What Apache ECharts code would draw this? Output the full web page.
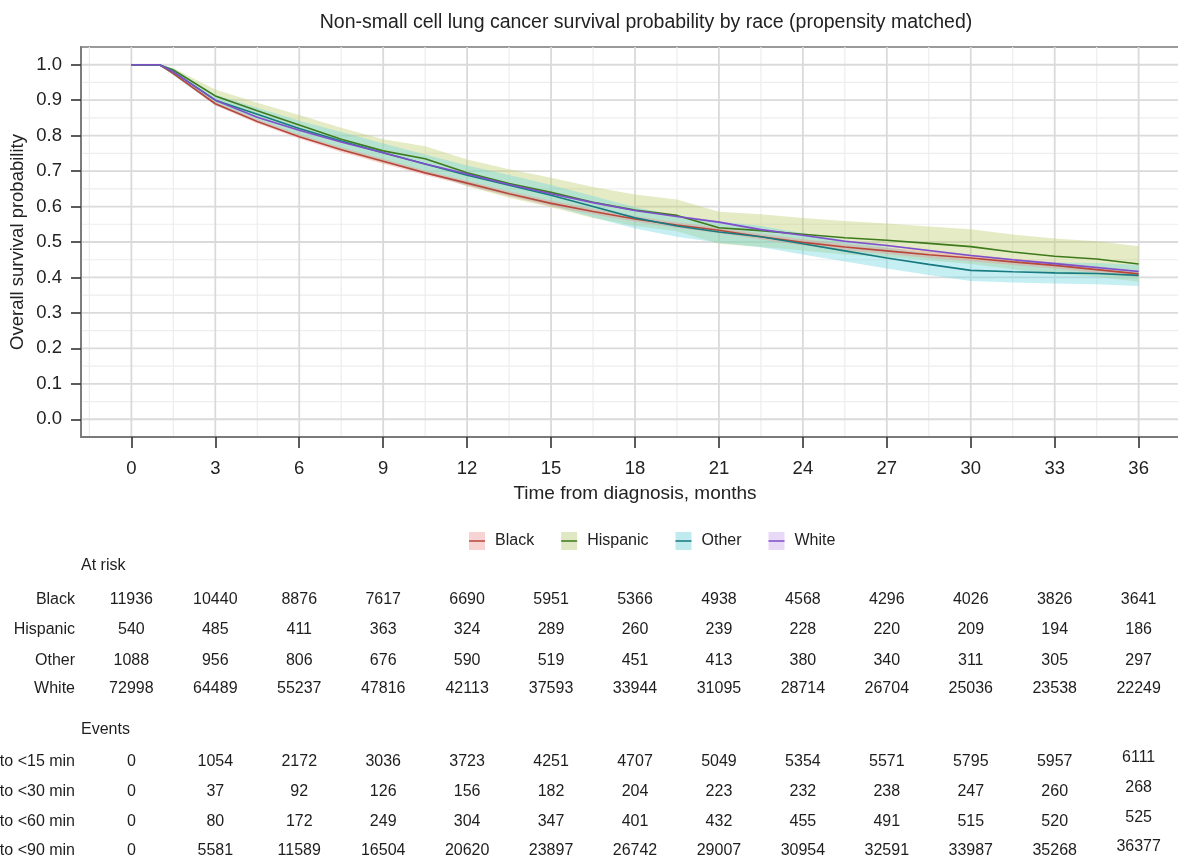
<!DOCTYPE html>
<html><head><meta charset="utf-8">
<script src="https://cdn.jsdelivr.net/npm/echarts@6/dist/echarts.min.js"></script>
<style>html,body{margin:0;padding:0;background:#fff}#c{width:1178px;height:858px}</style>
</head><body><div id="c"></div>
<script>
// ---------- data ----------
const months = [0,1,1.5,3,4.5,6,7.5,9,10.5,12,13.5,15,16.5,18,19.5,21,22.5,24,25.5,27,28.5,30,31.5,33,34.5,36];
const blackSurv = [1,1,0.975,0.89,0.84,0.797,0.76,0.728,0.695,0.666,0.636,0.609,0.586,0.565,0.548,0.533,0.515,0.499,0.486,0.475,0.464,0.455,0.444,0.434,0.422,0.41];
const blackHi   = [1,1,0.978,0.895,0.846,0.803,0.767,0.735,0.702,0.673,0.643,0.617,0.594,0.573,0.556,0.541,0.523,0.508,0.495,0.484,0.473,0.464,0.453,0.443,0.431,0.419];
const blackLo   = [1,1,0.972,0.885,0.834,0.791,0.753,0.721,0.688,0.659,0.629,0.601,0.578,0.557,0.54,0.525,0.507,0.49,0.477,0.466,0.455,0.446,0.435,0.425,0.413,0.401];
const hispSurv  = [1,1,0.985,0.912,0.87,0.83,0.79,0.757,0.735,0.695,0.665,0.64,0.612,0.59,0.575,0.54,0.532,0.522,0.512,0.505,0.496,0.487,0.472,0.46,0.452,0.438];
const hispHi    = [1,1,0.99,0.93,0.893,0.858,0.822,0.79,0.77,0.733,0.705,0.681,0.655,0.634,0.62,0.585,0.578,0.568,0.559,0.552,0.544,0.536,0.521,0.51,0.502,0.488];
const hispLo    = [1,1,0.98,0.89,0.845,0.8,0.758,0.722,0.698,0.657,0.625,0.598,0.568,0.545,0.53,0.495,0.486,0.476,0.465,0.458,0.448,0.438,0.423,0.41,0.402,0.388];
const otherSurv = [1,1,0.98,0.9,0.86,0.82,0.785,0.752,0.72,0.688,0.66,0.632,0.6,0.568,0.545,0.528,0.515,0.495,0.475,0.455,0.437,0.42,0.416,0.413,0.411,0.406];
const otherHi   = [1,1,0.99,0.915,0.879,0.842,0.81,0.778,0.747,0.716,0.689,0.661,0.63,0.598,0.575,0.558,0.545,0.525,0.505,0.485,0.467,0.45,0.446,0.443,0.441,0.436];
const otherLo   = [1,1,0.97,0.885,0.841,0.798,0.76,0.726,0.693,0.66,0.631,0.603,0.57,0.538,0.515,0.498,0.485,0.465,0.445,0.425,0.407,0.39,0.386,0.383,0.381,0.376];
const whiteSurv = [1,1,0.98,0.9,0.852,0.815,0.782,0.752,0.72,0.692,0.662,0.636,0.611,0.589,0.572,0.556,0.535,0.519,0.502,0.49,0.476,0.462,0.45,0.439,0.428,0.417];
const whiteHi   = [1,1,0.981,0.902,0.854,0.818,0.785,0.755,0.723,0.695,0.665,0.639,0.614,0.592,0.575,0.559,0.538,0.522,0.505,0.493,0.479,0.465,0.453,0.442,0.431,0.42];
const whiteLo   = [1,1,0.979,0.898,0.85,0.812,0.779,0.749,0.717,0.689,0.659,0.633,0.608,0.586,0.569,0.553,0.532,0.516,0.499,0.487,0.473,0.459,0.447,0.436,0.425,0.414];

const xTicks = [0,3,6,9,12,15,18,21,24,27,30,33,36];
const xMinor = [-1.5,1.5,4.5,7.5,10.5,13.5,16.5,19.5,22.5,25.5,28.5,31.5,34.5,37.5];
const yTicks = [0,0.1,0.2,0.3,0.4,0.5,0.6,0.7,0.8,0.9,1.0];
const yMinor = [0.05,0.15,0.25,0.35,0.45,0.55,0.65,0.75,0.85,0.95];

const groups = ['Black','Hispanic','Other','White'];
const riskBlack    = [11936,10440,8876,7617,6690,5951,5366,4938,4568,4296,4026,3826,3641];
const riskHispanic = [540,485,411,363,324,289,260,239,228,220,209,194,186];
const riskOther    = [1088,956,806,676,590,519,451,413,380,340,311,305,297];
const riskWhite    = [72998,64489,55237,47816,42113,37593,33944,31095,28714,26704,25036,23538,22249];

const eventLabels = ['to <15 min','to <30 min','to <60 min','to <90 min'];
const events15 = [0,1054,2172,3036,3723,4251,4707,5049,5354,5571,5795,5957,6111];
const events30 = [0,37,92,126,156,182,204,223,232,238,247,260,268];
const events60 = [0,80,172,249,304,347,401,432,455,491,515,520,525];
const events90 = [0,5581,11589,16504,20620,23897,26742,29007,30954,32591,33987,35268,36377];

// ---------- styles ----------
const FONT = '"Liberation Sans", Arial, Helvetica, sans-serif';
const lineColors = {Black:'#b8473a', Hispanic:'#3d7a1c', Other:'#177a80', White:'#7d4fc8'};
const bandColors = {Black:'rgba(240,140,140,0.35)', Hispanic:'rgba(190,205,110,0.40)', Other:'rgba(110,215,225,0.40)', White:'rgba(190,150,240,0.35)'};
const legendFill = {Black:'#f8d3d3', Hispanic:'#dfe8c2', Other:'#bfebee', White:'#e8d9f7'};

const chart = echarts.init(document.getElementById('c'), null, {renderer:'canvas'});

function lineSeries(name, arr){
  return {type:'line', name, data: months.map((t,i)=>[t, arr[i]]), showSymbol:false, symbol:'none',
    lineStyle:{color:lineColors[name], width:1.6}, itemStyle:{color:lineColors[name]}, z:4, silent:true, animation:false};
}
function bandSeries(name, lo, hi){
  return {type:'custom', name, data: months.map((t,i)=>[t, lo[i], hi[i]]), encode:{x:0, y:[1,2]}, z:2, silent:true, animation:false,
    itemStyle:{color:lineColors[name]},
    renderItem(params, api){
      if (params.dataIndex !== 0) return null;
      const pts = [];
      for (let i=0;i<months.length;i++) pts.push(api.coord([months[i], hi[i]]));
      for (let i=months.length-1;i>=0;i--) pts.push(api.coord([months[i], lo[i]]));
      return {type:'polygon', shape:{points:pts}, style:{fill:bandColors[name]}};
    }};
}
const gridSeries = {type:'custom', data:[[0,0]], z:0, silent:true, animation:false,
  renderItem(params, api){
    const cs = params.coordSys;
    const ch = [];
    const vline = (v, color, w) => { const x = api.coord([v, 0])[0];
      ch.push({type:'line', shape:{x1:x, y1:cs.y, x2:x, y2:cs.y+cs.height}, style:{stroke:color, lineWidth:w}}); };
    const hline = (v, color, w) => { const y = api.coord([0, v])[1];
      ch.push({type:'line', shape:{x1:cs.x, y1:y, x2:cs.x+cs.width, y2:y}, style:{stroke:color, lineWidth:w}}); };
    xMinor.forEach(v=>vline(v,'#ededed',1.2));
    yMinor.forEach(v=>hline(v,'#ededed',1.2));
    xTicks.forEach(v=>vline(v,'#dadada',1.8));
    yTicks.forEach(v=>hline(v,'#dadada',1.8));
    return {type:'group', children:ch};
  }};

const lineIcon = 'path://M0,0h0.01v0.01h-0.01zM0,8.2h16v1.6h-16zM15.99,17.99h0.01v0.01h-0.01z';

const option = {
  animation:false,
  textStyle:{fontFamily:FONT},
  title:{text:'Non-small cell lung cancer survival probability by race (propensity matched)', left:641, textAlign:'center', top:8,
    textStyle:{fontFamily:FONT, fontSize:19.5, fontWeight:'normal', color:'#222'}},
  grid:{left:81, top:47, width:1108, height:390, outerBoundsMode:'none', containLabel:false,
    show:true, borderColor:'#7a7a7a', borderWidth:1.5, backgroundColor:'#fff'},
  xAxis:{type:'value', min:-1.8, max:37.8, name:'Time from diagnosis, months', nameLocation:'middle', nameGap:47, nameMoveOverlap:false,
    nameTextStyle:{fontFamily:FONT, fontSize:19, color:'#222'},
    axisLine:{show:true, onZero:false, lineStyle:{color:'#7a7a7a', width:1.8}},
    axisTick:{show:true, customValues:xTicks, length:11, lineStyle:{color:'#333', width:1.6}},
    axisLabel:{customValues:xTicks, margin:22, fontSize:18.5, color:'#222', formatter:v=>String(v)},
    splitLine:{show:false}},
  yAxis:{type:'value', min:-0.05, max:1.05, name:'Overall survival probability', nameLocation:'middle', nameGap:54, nameMoveOverlap:false,
    nameTextStyle:{fontFamily:FONT, fontSize:18.5, color:'#222'},
    axisLine:{show:true, onZero:false, lineStyle:{color:'#7a7a7a', width:1.8}},
    axisTick:{show:true, customValues:yTicks, length:10, lineStyle:{color:'#333', width:1.6}},
    axisLabel:{customValues:yTicks, margin:19, fontSize:18.5, color:'#222', formatter:v=>v.toFixed(1)},
    splitLine:{show:false}},
  legend:[
    {left:464, top:527, itemWidth:16, itemHeight:18, itemGap:27, selectedMode:false,
     textStyle:{fontFamily:FONT, fontSize:16, color:'#222', padding:[0,0,0,5]},
     data: groups.map(g=>({name:g, icon:'rect', itemStyle:{color:legendFill[g], borderWidth:0}}))},
    {left:464, top:527, itemWidth:16, itemHeight:18, itemGap:27, selectedMode:false,
     textStyle:{fontFamily:FONT, fontSize:16, color:'rgba(0,0,0,0)', padding:[0,0,0,5]},
     data: groups.map(g=>({name:g, icon:lineIcon, itemStyle:{color:lineColors[g], borderWidth:0}}))}
  ],
  series:[
    gridSeries,
    bandSeries('Hispanic', hispLo, hispHi),
    bandSeries('Other', otherLo, otherHi),
    bandSeries('Black', blackLo, blackHi),
    bandSeries('White', whiteLo, whiteHi),
    lineSeries('Black', blackSurv),
    lineSeries('Hispanic', hispSurv),
    lineSeries('Other', otherSurv),
    lineSeries('White', whiteSurv)
  ]
};
chart.setOption(option);

// ---------- tables below the plot ----------
const colX = xTicks.map(t => chart.convertToPixel({xAxisIndex:0}, t));
const g = [];
function txt(text, x, y, align, size){
  g.push({type:'text', silent:true, style:{text:String(text), x, y, align, verticalAlign:'middle',
    fontFamily:FONT, fontSize:size||16, fill:'#1e1e1e'}});
}
txt('At risk', 81, 566, 'left');
const riskRows = [riskBlack, riskHispanic, riskOther, riskWhite];
const riskY = [600, 630, 661, 689];
riskRows.forEach((row, r) => {
  txt(groups[r], 75, riskY[r], 'right');
  row.forEach((v, c) => txt(v, colX[c], riskY[r], 'center'));
});
txt('Events', 81, 730, 'left');
const evRows = [events15, events30, events60, events90];
const evY = [762, 792, 822, 851];
evRows.forEach((row, r) => {
  txt(eventLabels[r], 75, evY[r], 'right');
  row.forEach((v, c) => txt(v, colX[c], evY[r] - (c === row.length-1 ? 4 : 0), 'center'));
});
chart.setOption({graphic: g});
</script>
</body></html>
